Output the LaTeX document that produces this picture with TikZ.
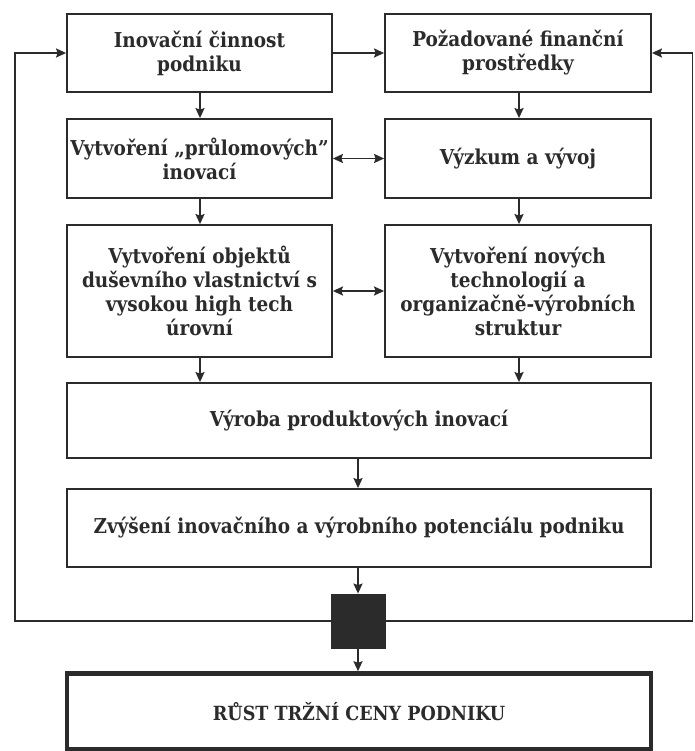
\documentclass[tikz,border=0pt]{standalone}
\usepackage{fontspec}
\setmainfont{DejaVu Serif Condensed}
\usetikzlibrary{arrows.meta}
\definecolor{ink}{HTML}{2B2B2B}
\tikzset{
  x=1pt, y=-1pt,
  box/.style={draw=ink, line width=1.8pt, fill=white, text=ink,
    align=center, inner sep=1pt,
    font=\fontsize{20.5}{24}\selectfont\bfseries},
  finalbox/.style={box, line width=4.5pt,
    font=\fontsize{19.5}{24}\selectfont\bfseries},
  junction/.style={draw=ink, fill=ink, line width=0.8pt,
    minimum width=54pt, minimum height=54pt, inner sep=0pt},
  flow/.style={draw=ink, line width=1.8pt,
    -{Stealth[length=10pt, width=9pt, inset=1.5pt]}},
  twoway/.style={draw=ink, line width=1.8pt,
    {Stealth[length=10pt, width=9pt, inset=1.5pt]}-{Stealth[length=10pt, width=9pt, inset=1.5pt]}},
}
\begin{document}
\begin{tikzpicture}
\useasboundingbox (0,0) rectangle (694,751);

% top row
\node[box, minimum width=265pt, minimum height=78pt] (innov) at (199.5,53)
  {Inovační činnost\\podniku};
\node[box, minimum width=266pt, minimum height=78pt] (fin) at (518,53)
  {Požadované finanční\\prostředky};

% second row
\node[box, minimum width=265pt, minimum height=79pt] (break) at (199.5,158.5)
  {Vytvoření „průlomových”\\inovací};
\node[box, minimum width=266pt, minimum height=79pt] (rnd) at (518,158.5)
  {Výzkum a vývoj};

% third row
\node[box, minimum width=265pt, minimum height=132pt] (ip) at (199.5,291)
  {Vytvoření objektů\\duševního vlastnictví s\\vysokou high tech\\úrovní};
\node[box, minimum width=266pt, minimum height=132pt] (tech) at (518,291)
  {Vytvoření nových\\technologií a\\organizačně-výrobních\\struktur};

% full-width rows
\node[box, minimum width=584pt, minimum height=75pt] (prod) at (359,420.5)
  {Výroba produktových inovací};
\node[box, minimum width=584pt, minimum height=78pt] (pot) at (359,528)
  {Zvýšení inovačního a výrobního potenciálu podniku};

% junction and result
\node[junction] (junc) at (358,621) {};
\node[finalbox, minimum width=584pt, minimum height=76pt] (value) at (359,711.5)
  {RŮST TRŽNÍ CENY PODNIKU};

% feedback corners
\coordinate (fbl) at (15,621);
\coordinate (fbr) at (692.5,621);

% vertical flow
\draw[flow] (innov.south -| 200,0) -- (break.north -| 200,0);
\draw[flow] (fin.south -| 519,0) -- (rnd.north -| 519,0);
\draw[flow] (break.south -| 200,0) -- (ip.north -| 200,0);
\draw[flow] (rnd.south -| 519,0) -- (tech.north -| 519,0);
\draw[flow] (ip.south -| 200,0) -- (prod.north -| 200,0);
\draw[flow] (tech.south -| 519,0) -- (prod.north -| 519,0);
\draw[flow] (prod.south -| 358,0) -- (pot.north -| 358,0);
\draw[flow] (pot.south -| 358,0) -- (junc.north);
\draw[flow] (junc.south) -- (value.north -| 358,0);

% horizontal links
\draw[flow] (innov.east) -- (fin.west);
\draw[twoway] (break.east) -- (rnd.west);
\draw[twoway] (ip.east) -- (tech.west);

% feedback loops
\draw[flow] (junc.west) -- (fbl) |- (innov.west);
\draw[flow] (junc.east) -- (fbr) |- (fin.east);
\end{tikzpicture}
\end{document}
